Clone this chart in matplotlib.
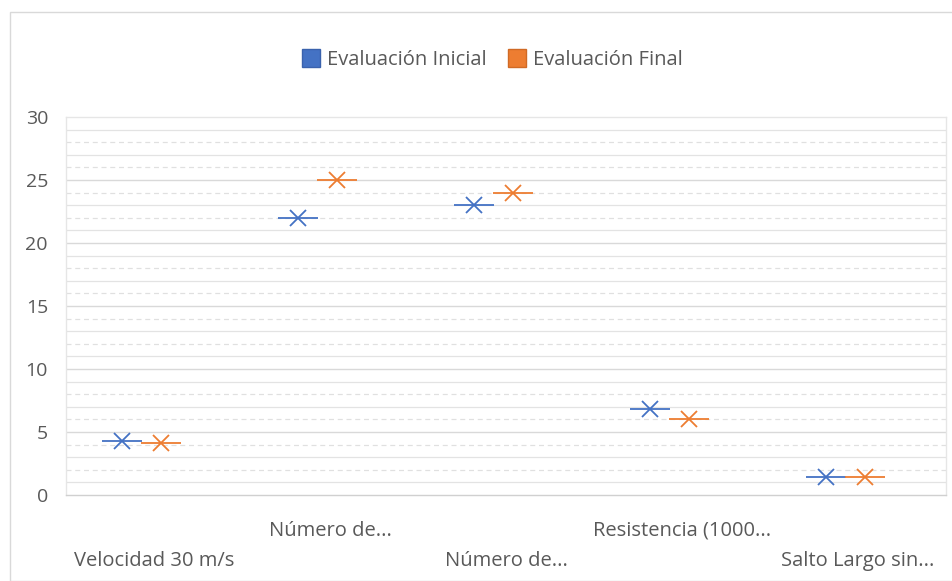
import matplotlib
matplotlib.use("Agg")
import matplotlib.pyplot as plt
import numpy as np
from matplotlib.patches import Rectangle
from matplotlib.lines import Line2D

categories = ["Velocidad 30 m/s", "Número de...", "Número de...", "Resistencia (1000...", "Salto Largo sin..."]
inicial = [4.3, 22.0, 23.0, 6.8, 1.4]
final = [4.1, 25.0, 24.0, 6.0, 1.4]
series_names = ["Evaluación Inicial", "Evaluación Final"]
yticks = [0, 5, 10, 15, 20, 25, 30]

plt.rcParams['font.family'] = ['Open Sans', 'DejaVu Sans']
blue = "#4472C4"
orange = "#ED7D31"
txt = "#595959"

fig = plt.figure(figsize=(9.53, 5.81), dpi=100)
ax = fig.add_axes([66/953, 1-495/581, (946-66)/953, (495-117)/581])

x = np.arange(len(categories))
for vals, off, col in [(inicial, -0.18, blue), (final, 0.04, orange)]:
    xs = x + off
    ax.plot(xs, vals, linestyle='none', marker='x', markersize=12, markeredgewidth=1.3, color=col, zorder=3)
    ax.plot(xs, vals, linestyle='none', marker='_', markersize=29, markeredgewidth=1.3, color=col, zorder=3)

ax.set_xlim(-0.5, len(categories) - 0.5)
ax.set_ylim(0, 30)
ax.set_yticks(yticks)
ax.set_yticklabels([str(v) for v in yticks], fontsize=14, color=txt)
ax.set_xticks(x)
ax.set_xticklabels([])
for i, c in enumerate(categories):
    yoff = -0.095 if i % 2 == 1 else -0.175
    ax.text(i, yoff, c, transform=ax.get_xaxis_transform(), ha='center', va='center', fontsize=14.5, color=txt)

ax.tick_params(axis='both', length=0, pad=13)
# gridlines
for v in range(1, 30):
    if v % 5 == 0:
        ax.axhline(v, color="#d9d9d9", linewidth=1.0, zorder=1)
    elif v % 2 == 1:
        ax.axhline(v, color="#e3e3e3", linewidth=0.9, zorder=1)
    else:
        ax.axhline(v, color="#e0e0e0", linewidth=0.9, linestyle=(0, (4, 3)), zorder=1)
for s in ['top', 'right', 'left']:
    ax.spines[s].set_color("#e6e6e6")
    ax.spines[s].set_linewidth(1.0)
ax.spines['bottom'].set_color("#d0d0d0")
ax.spines['bottom'].set_linewidth(1.0)

handles = [Line2D([], [], linestyle='none', marker='s', markersize=13, markerfacecolor=blue, markeredgecolor="#3a62ad"),
           Line2D([], [], linestyle='none', marker='s', markersize=13, markerfacecolor=orange, markeredgecolor="#d06a25")]
fig.legend(handles, series_names, loc='center', bbox_to_anchor=(492/953, 1-60/581), ncol=2, frameon=False,
           fontsize=14.5, labelcolor=txt, handletextpad=0.3, columnspacing=1.0, handlelength=1.0)

fig.patches.append(Rectangle((10/953, 0), 1, 1-12/581, transform=fig.transFigure, fill=False,
                             edgecolor="#d9d9d9", linewidth=1.0))
fig.savefig("out.png", dpi=100, facecolor='white')
